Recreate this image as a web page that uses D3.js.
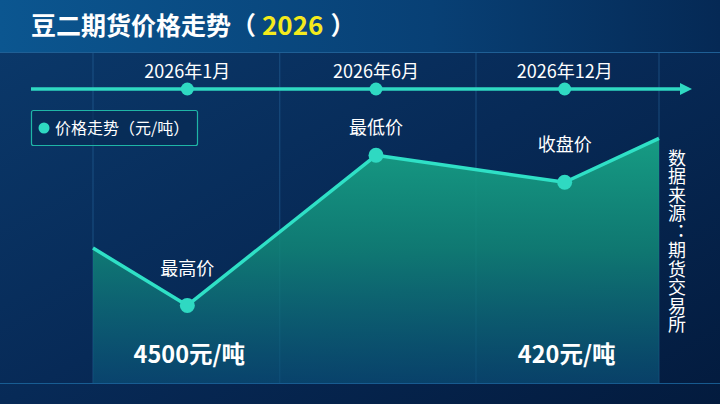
<!DOCTYPE html>
<html>
<head>
<meta charset="utf-8">
<script src="https://cdn.jsdelivr.net/npm/d3@7/dist/d3.min.js"></script>
<style>
html,body{margin:0;padding:0;background:#05234a;}
svg{display:block;font-family:"Noto Sans CJK SC","Noto Sans",sans-serif;}
</style>
</head>
<body>
<svg id="chart" width="720" height="404"></svg>
<script>
// ---- data ----
const titleMain = "豆二期货价格走势（";
const titleYear = "2026";
const titleEnd = "）";
const timelineLabels = ["2026年1月", "2026年6月", "2026年12月"];
const timelinePos = [0.5, 1.5, 2.5];
const gridPos = [0, 0.99, 2.03, 3];
const pricePos = [0, 0.5, 1.5, 2.5, 3];
const priceValues = [3800, 3460, 4350, 4190, 4450];
const annotLabels = ["最高价", "最低价", "收盘价"];
const annotIndex = [1, 2, 3];
const bottomLabels = ["4500元/吨", "420元/吨"];
const bottomIndex = [1, 3];
const legendLabel = "价格走势（元/吨）";
const sourceText = "数据来源：期货交易所";

const W = 720, H = 404;
const svg = d3.select("#chart");
const defs = svg.append("defs");

// background gradient
const bg = defs.append("linearGradient").attr("id","bg").attr("x1","0").attr("y1","0").attr("x2","1").attr("y2","1");
bg.append("stop").attr("offset","0%").attr("stop-color","#0b3a6c");
bg.append("stop").attr("offset","50%").attr("stop-color","#072a57");
bg.append("stop").attr("offset","100%").attr("stop-color","#031b3e");
const tb = defs.append("linearGradient").attr("id","tb").attr("x1","0").attr("y1","0").attr("x2","1").attr("y2","0");
tb.append("stop").attr("offset","0%").attr("stop-color","#0b5690");
tb.append("stop").attr("offset","60%").attr("stop-color","#084075");
tb.append("stop").attr("offset","100%").attr("stop-color","#052955");
const ag = defs.append("linearGradient").attr("id","area").attr("x1","0").attr("y1","0").attr("x2","0").attr("y2","1");
ag.append("stop").attr("offset","0%").attr("stop-color","#17a286").attr("stop-opacity",0.95);
ag.append("stop").attr("offset","45%").attr("stop-color","#118778").attr("stop-opacity",0.85);
ag.append("stop").attr("offset","100%").attr("stop-color","#0a4f78").attr("stop-opacity",0.7);

svg.append("rect").attr("width",W).attr("height",H).attr("fill","url(#bg)");
svg.append("rect").attr("width",W).attr("height",52).attr("fill","url(#tb)");
svg.append("line").attr("x1",0).attr("x2",W).attr("y1",52.5).attr("y2",52.5).attr("stroke","#1f5f95").attr("stroke-width",1);

// title
const t = svg.append("text").attr("x",31).attr("y",35).attr("font-size",25).attr("font-weight","bold").attr("fill","#ffffff");
t.append("tspan").text(titleMain);
t.append("tspan").attr("dx",6).attr("font-size",26).attr("fill","#f4ea1c").text(titleYear);
t.append("tspan").attr("dx",7).text(titleEnd);

// scales
const x = d3.scaleLinear().domain([0,3]).range([93,659]);
const y = d3.scaleLinear().domain([3000,4500]).range([383,130]);
const baseY = y(3000);

// grid lines
svg.selectAll(".grid").data(gridPos).join("line")
  .attr("x1",d=>x(d)).attr("x2",d=>x(d)).attr("y1",53).attr("y2",baseY)
  .attr("stroke","#2a6aa0").attr("stroke-opacity",0.55).attr("stroke-width",1);
svg.append("line").attr("x1",0).attr("x2",W).attr("y1",baseY+0.5).attr("y2",baseY+0.5)
  .attr("stroke","#1d6aa3").attr("stroke-opacity",0.8).attr("stroke-width",1);

// timeline
const tlY = 89;
svg.append("line").attr("x1",31).attr("x2",682).attr("y1",tlY).attr("y2",tlY)
  .attr("stroke","#2fd9c2").attr("stroke-width",3.5);
svg.append("path").attr("d",`M680,${tlY-6}L692,${tlY}L680,${tlY+6}Z`).attr("fill","#2fd9c2");
svg.selectAll(".tld").data(timelinePos).join("circle")
  .attr("cx",d=>x(d)).attr("cy",tlY).attr("r",6.5).attr("fill","#2fd9c2");
svg.selectAll(".tll").data(timelineLabels).join("text")
  .attr("x",(d,i)=>x(timelinePos[i])).attr("y",78).attr("text-anchor","middle")
  .attr("font-size",18).attr("fill","#ffffff").text(d=>d);

// legend
svg.append("rect").attr("x",31.5).attr("y",110.5).attr("width",166).attr("height",35).attr("rx",2)
  .attr("fill","#062a52").attr("fill-opacity",0.6).attr("stroke","#1fb5a6").attr("stroke-width",1.2);
svg.append("circle").attr("cx",44).attr("cy",128).attr("r",5.5).attr("fill","#2fd9c2");
svg.append("text").attr("x",55).attr("y",134).attr("font-size",16).attr("fill","#ffffff").text(legendLabel);

// area + line
const pts = pricePos.map((p,i)=>({x:p, v:priceValues[i]}));
const area = d3.area().x(d=>x(d.x)).y0(baseY).y1(d=>y(d.v));
const line = d3.line().x(d=>x(d.x)).y(d=>y(d.v));
svg.append("path").datum(pts).attr("d",area).attr("fill","url(#area)");
svg.append("path").datum(pts).attr("d",line).attr("fill","none").attr("stroke","#2fe0c6").attr("stroke-width",3.5).attr("stroke-linejoin","round");
svg.selectAll(".pd").data(annotIndex).join("circle")
  .attr("cx",i=>x(pts[i].x)).attr("cy",i=>y(pts[i].v)).attr("r",7.5).attr("fill","#2fd9c2");

// annotations
const annotDy = [-30, -21, -31];
svg.selectAll(".an").data(annotLabels).join("text")
  .attr("x",(d,i)=>x(pts[annotIndex[i]].x)).attr("y",(d,i)=>y(pts[annotIndex[i]].v)+annotDy[i])
  .attr("text-anchor","middle").attr("font-size",18).attr("fill","#ffffff").text(d=>d);

// bottom labels
svg.selectAll(".bl").data(bottomLabels).join("text")
  .attr("x",(d,i)=>x(pts[bottomIndex[i]].x)+2).attr("y",363)
  .attr("text-anchor","middle").attr("font-size",23.5).attr("font-weight","bold").attr("fill","#ffffff").text(d=>d);

// source vertical
svg.append("text").attr("x",677).attr("y",149)
  .style("writing-mode","vertical-rl").attr("font-size",18).attr("fill","#ffffff")
  .attr("letter-spacing",0.5).text(sourceText);
</script>
</body>
</html>
